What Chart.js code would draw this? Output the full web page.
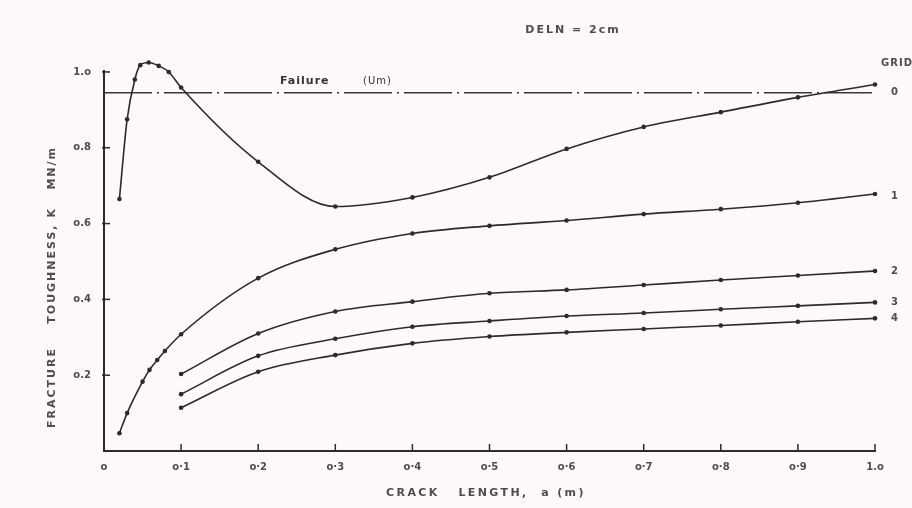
<!DOCTYPE html>
<html>
<head>
<meta charset="utf-8">
<script src="https://cdn.jsdelivr.net/npm/chart.js@4.4.0/dist/chart.umd.min.js"></script>
<style>
  body { margin: 0; background: #fdf8f9; }
  .chart-wrap { width: 912px; height: 508px; }
</style>
</head>
<body>
<div class="chart-wrap"><canvas id="kChart" width="912" height="508"></canvas></div>
<script>
// crack length a (m) for each grid curve
const xGrid0 = [0.02, 0.03, 0.04, 0.047, 0.058, 0.071, 0.084, 0.1, 0.2, 0.3, 0.4, 0.5, 0.6, 0.7, 0.8, 0.9, 1.0];
const xGrid1 = [0.02, 0.03, 0.05, 0.059, 0.069, 0.079, 0.1, 0.2, 0.3, 0.4, 0.5, 0.6, 0.7, 0.8, 0.9, 1.0];
const xCoarse = [0.1, 0.2, 0.3, 0.4, 0.5, 0.6, 0.7, 0.8, 0.9, 1.0];

// fracture toughness K (MN/m^3/2)
const kGrid0 = [0.665, 0.875, 0.98, 1.018, 1.025, 1.016, 1.0, 0.959, 0.763, 0.645, 0.669, 0.722, 0.797, 0.855, 0.894, 0.933, 0.967];
const kGrid1 = [0.047, 0.10, 0.183, 0.214, 0.240, 0.264, 0.308, 0.456, 0.532, 0.574, 0.594, 0.608, 0.625, 0.638, 0.655, 0.678];
const kGrid2 = [0.203, 0.310, 0.368, 0.394, 0.416, 0.425, 0.438, 0.451, 0.463, 0.475];
const kGrid3 = [0.150, 0.251, 0.296, 0.328, 0.343, 0.356, 0.364, 0.374, 0.383, 0.392];
const kGrid4 = [0.114, 0.209, 0.253, 0.284, 0.302, 0.313, 0.322, 0.331, 0.341, 0.350];
const gridNames = ['0', '1', '2', '3', '4'];

const failureK = 0.945;
const failureX = [0, 1.0];

const xTickLabels = ['o', 'o·1', 'o·2', 'o·3', 'o·4', 'o·5', 'o·6', 'o·7', 'o·8', 'o·9', '1.o'];
const yTickLabels = ['', 'o.2', 'o.4', 'o.6', 'o.8', '1.o'];

const ink = '#2b2b2b';
const textCol = '#4d4d4d';

function pts(xs, ys) {
    return xs.map((x, i) => ({ x: x, y: ys[i] }));
}

function curve(xs, ys) {
    return {
        data: pts(xs, ys),
        showLine: true,
        borderColor: ink,
        backgroundColor: ink,
        borderWidth: 1.6,
        pointRadius: 2.3,
        pointBorderWidth: 0,
        cubicInterpolationMode: 'monotone',
        clip: false
    };
}

const datasets = [
    curve(xGrid0, kGrid0),
    curve(xGrid1, kGrid1),
    curve(xCoarse, kGrid2),
    curve(xCoarse, kGrid3),
    curve(xCoarse, kGrid4),
    {
        data: failureX.map(x => ({ x: x, y: failureK })),
        showLine: true,
        borderColor: '#3a3a30',
        borderWidth: 1.4,
        borderDash: [48, 5, 2, 5],
        pointRadius: 0,
        clip: false
    }
];

// axis line, tick marks drawn inward, plus the free text of the figure
const annotate = {
    id: 'annotate',
    afterDraw(chart) {
        const ctx = chart.ctx;
        const xs = chart.scales.x;
        const ys = chart.scales.y;
        const area = chart.chartArea;
        ctx.save();
        ctx.strokeStyle = ink;
        ctx.lineWidth = 2;
        ctx.beginPath();
        ctx.moveTo(area.left, ys.getPixelForValue(0) + 1);
        ctx.lineTo(area.left, ys.getPixelForValue(1.005));
        ctx.stroke();

        ctx.lineWidth = 1.5;
        xs.ticks.forEach(t => {
            if (t.value === 0) return;
            const px = xs.getPixelForValue(t.value);
            ctx.beginPath();
            ctx.moveTo(px, area.bottom);
            ctx.lineTo(px, area.bottom - 7);
            ctx.stroke();
        });
        ys.ticks.forEach(t => {
            if (t.value === 0) return;
            const py = ys.getPixelForValue(t.value);
            ctx.beginPath();
            ctx.moveTo(area.left - 2, py);
            ctx.lineTo(area.left + 6, py);
            ctx.stroke();
        });

        ctx.fillStyle = textCol;
        ctx.textBaseline = 'middle';

        // title
        ctx.font = 'bold 11px "DejaVu Sans"';
        ctx.letterSpacing = '2px';
        ctx.textAlign = 'center';
        ctx.fillText('DELN = 2cm', 573, 30);

        // x axis title
        ctx.letterSpacing = '2.4px';
        ctx.fillText('CRACK   LENGTH,  a (m)', 486, 493);

        // y axis title
        ctx.letterSpacing = '2px';
        ctx.save();
        ctx.translate(52, 287);
        ctx.rotate(-Math.PI / 2);
        ctx.fillText('FRACTURE    TOUGHNESS, K   MN/m', 0, 0);
        ctx.restore();

        // failure label
        ctx.letterSpacing = '1px';
        ctx.fillStyle = '#333';
        ctx.font = 'bold 11px "DejaVu Sans"';
        ctx.textAlign = 'left';
        ctx.fillText('Failure', 280, 81);
        ctx.font = '10px "DejaVu Sans"';
        ctx.fillText('(Um)', 363, 81);

        // grid labels at the right ends
        ctx.fillStyle = textCol;
        ctx.font = 'bold 10px "DejaVu Sans"';
        ctx.letterSpacing = '1px';
        ctx.fillText('GRID', 881, 63);
        const offs = [8, 2, 0, 0, 0];
        gridNames.forEach((name, i) => {
            const meta = chart.getDatasetMeta(i);
            const last = meta.data[meta.data.length - 1];
            ctx.fillText(name, last.x + 16, last.y + offs[i]);
        });
        ctx.restore();
    }
};

const ctxK = document.getElementById('kChart').getContext('2d');
new Chart(ctxK, {
    type: 'scatter',
    data: { datasets: datasets },
    options: {
        responsive: false,
        animation: false,
        layout: { padding: { top: 56.8, right: 37, left: 0, bottom: 0 } },
        plugins: {
            legend: { display: false },
            tooltip: { enabled: false }
        },
        scales: {
            x: {
                type: 'linear',
                min: 0,
                max: 1,
                afterFit: (scale) => { scale.height = 57; },
                grid: { display: false, drawTicks: false },
                border: { display: true, color: ink, width: 2 },
                ticks: {
                    stepSize: 0.1,
                    padding: 10,
                    color: textCol,
                    font: { family: 'DejaVu Sans', size: 10, weight: 'bold' },
                    maxRotation: 0,
                    autoSkip: false,
                    callback: (v, i) => xTickLabels[i]
                }
            },
            y: {
                type: 'linear',
                min: 0,
                max: 1.04,
                afterFit: (scale) => { scale.width = 104; },
                grid: { display: false, drawTicks: false },
                border: { display: false },
                ticks: {
                    stepSize: 0.2,
                    includeBounds: false,
                    padding: 13,
                    color: textCol,
                    font: { family: 'DejaVu Sans', size: 10, weight: 'bold' },
                    callback: (v, i) => yTickLabels[i]
                }
            }
        }
    },
    plugins: [annotate]
});
</script>
</body>
</html>
